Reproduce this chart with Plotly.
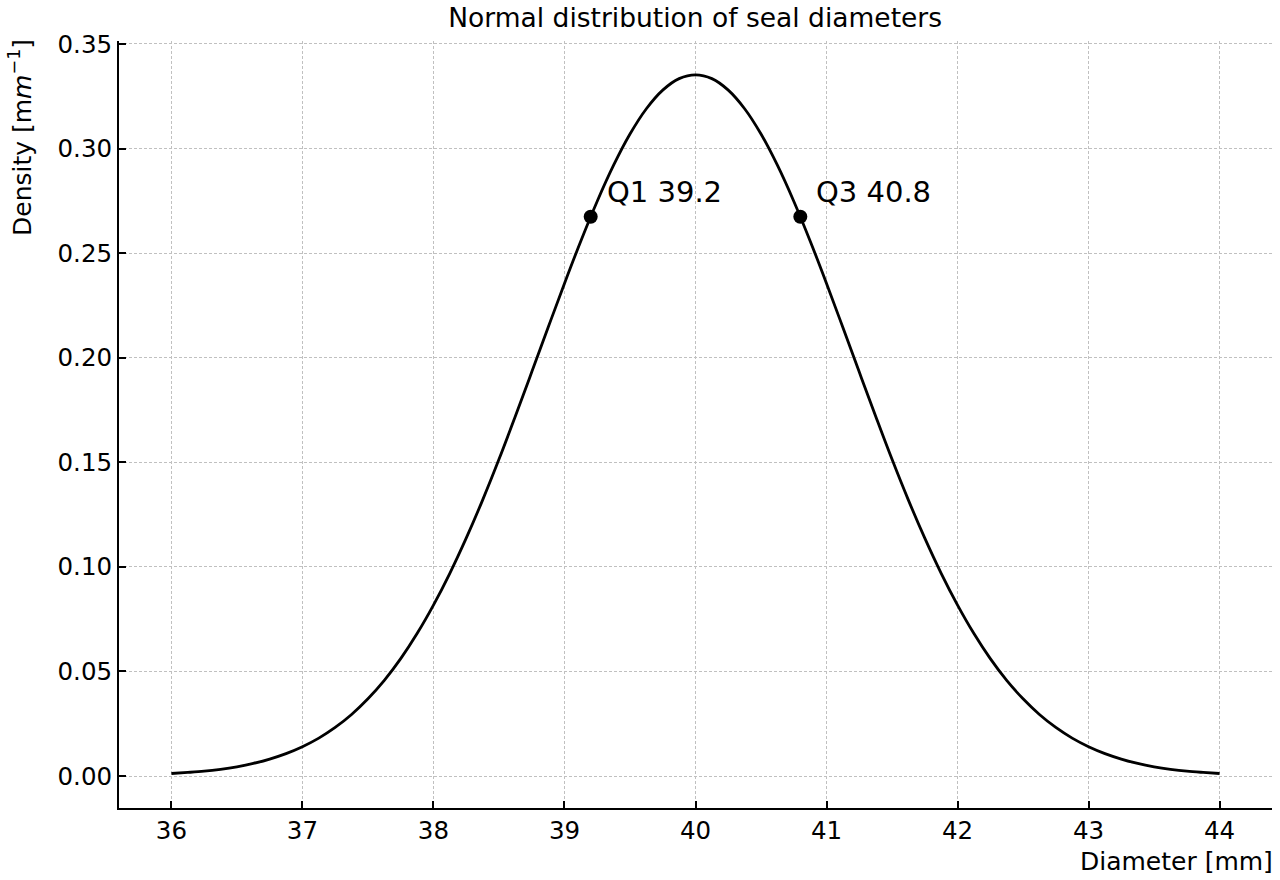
import plotly.graph_objects as go

# Diameter grid [mm] and density values
diameter = [36.0, 36.125, 36.25, 36.375, 36.5, 36.625, 36.75, 36.875,
            37.0, 37.125, 37.25, 37.375, 37.5, 37.625, 37.75, 37.875,
            38.0, 38.125, 38.25, 38.375, 38.5, 38.625, 38.75, 38.875,
            39.0, 39.125, 39.25, 39.375, 39.5, 39.625, 39.75, 39.875,
            40.0,
            40.125, 40.25, 40.375, 40.5, 40.625, 40.75, 40.875, 41.0,
            41.125, 41.25, 41.375, 41.5, 41.625, 41.75, 41.875, 42.0,
            42.125, 42.25, 42.375, 42.5, 42.625, 42.75, 42.875, 43.0,
            43.125, 43.25, 43.375, 43.5, 43.625, 43.75, 43.875, 44.0]
density = [0.0012, 0.0017, 0.0023, 0.0032, 0.0044, 0.0060, 0.0081, 0.0107,
           0.0140, 0.0181, 0.0232, 0.0294, 0.0369, 0.0457, 0.0561, 0.0681,
           0.0817, 0.0969, 0.1137, 0.1319, 0.1514, 0.1720, 0.1931, 0.2144,
           0.2355, 0.2558, 0.2748, 0.2920, 0.3069, 0.3190, 0.3279, 0.3334,
           0.3352,
           0.3334, 0.3279, 0.3190, 0.3069, 0.2920, 0.2748, 0.2558, 0.2355,
           0.2144, 0.1931, 0.1720, 0.1514, 0.1319, 0.1137, 0.0969, 0.0817,
           0.0681, 0.0561, 0.0457, 0.0369, 0.0294, 0.0232, 0.0181, 0.0140,
           0.0107, 0.0081, 0.0060, 0.0044, 0.0032, 0.0023, 0.0017, 0.0012]

quart_labels = ["Q1 39.2", "Q3 40.8"]
quart_x = [39.2, 40.8]
quart_y = [0.2674, 0.2674]

x_ticks = [36, 37, 38, 39, 40, 41, 42, 43, 44]
y_ticks = [0.00, 0.05, 0.10, 0.15, 0.20, 0.25, 0.30, 0.35]
y_ticktext = ["0.00", "0.05", "0.10", "0.15", "0.20", "0.25", "0.30", "0.35"]

FONT = "DejaVu Sans"

fig = go.Figure()
fig.add_trace(go.Scatter(x=diameter, y=density, mode="lines",
                         line=dict(color="black", width=2.8, shape="spline", smoothing=1.0),
                         showlegend=False, hoverinfo="skip"))
fig.add_trace(go.Scatter(x=quart_x, y=quart_y, mode="markers",
                         marker=dict(color="black", size=14),
                         showlegend=False))

for lab, qx, qy in zip(quart_labels, quart_x, quart_y):
    fig.add_annotation(x=qx, y=qy, xref="x", yref="y", text=lab, showarrow=False,
                       xanchor="left", yanchor="middle", xshift=14, yshift=25,
                       font=dict(family=FONT, size=29, color="black"))

fig.add_annotation(x=1, y=0, xref="paper", yref="paper", text="Diameter [mm]",
                   showarrow=False, xanchor="right", yanchor="top", xshift=3, yshift=-37,
                   font=dict(family=FONT, size=25, color="black"))
fig.add_annotation(x=0, y=1, xref="paper", yref="paper",
                   text="Density [m<i>m</i><sup>−1</sup>]",
                   showarrow=False, textangle=-90, xanchor="right", yanchor="top",
                   xshift=-80, yshift=4,
                   font=dict(family=FONT, size=25, color="black"))

fig.update_layout(
    width=1280, height=880,
    margin=dict(l=119, r=8, t=41, b=72),
    paper_bgcolor="white", plot_bgcolor="white",
    font=dict(family=FONT, size=24.5, color="black"),
    title=dict(text="Normal distribution of seal diameters", x=0.5431, xanchor="center",
               y=0.98, yanchor="middle", font=dict(family=FONT, size=26.5, color="black")),
    xaxis=dict(range=[35.6, 44.4], tickvals=x_ticks, ticks="inside", ticklen=7,
               tickwidth=1.6, tickcolor="black", showline=True, linecolor="black",
               linewidth=2, showgrid=True, gridcolor="#c0c0c0", griddash="3px,2px",
               gridwidth=1, zeroline=False, tickfont=dict(size=24.5)),
    yaxis=dict(range=[-0.0153, 0.3514], tickvals=y_ticks, ticktext=y_ticktext,
               ticks="inside", ticklen=7, tickwidth=1.6, tickcolor="black",
               showline=True, linecolor="black", linewidth=2, showgrid=True,
               gridcolor="#c0c0c0", griddash="3px,2px", gridwidth=1, zeroline=False,
               tickfont=dict(size=24.5)),
)

fig.write_html("out.html")
